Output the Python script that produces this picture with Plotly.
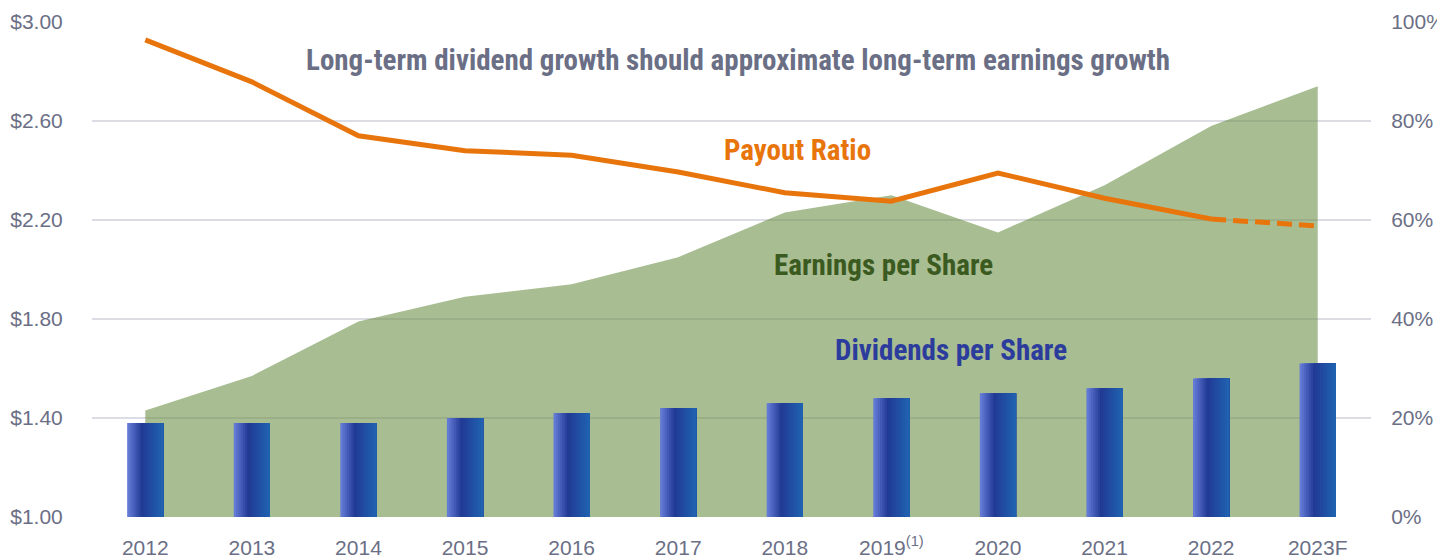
import plotly.graph_objects as go

years = ["2012", "2013", "2014", "2015", "2016", "2017", "2018", "2019", "2020", "2021", "2022", "2023F"]
year_labels = ["2012", "2013", "2014", "2015", "2016", "2017", "2018", "2019<sup>(1)</sup>",
               "2020", "2021", "2022", "2023F"]
eps = [1.43, 1.57, 1.79, 1.89, 1.94, 2.05, 2.23, 2.30, 2.15, 2.34, 2.58, 2.74]
dps = [1.38, 1.38, 1.38, 1.40, 1.42, 1.44, 1.46, 1.48, 1.50, 1.52, 1.56, 1.62]
payout = [96.4, 87.9, 77.0, 74.0, 73.1, 69.7, 65.5, 63.8, 69.5, 64.4, 60.2, 58.8]

GRAY = "#6b6f86"
ORANGE = "#e8750c"
NARROW = "Liberation Sans Narrow, Arial Narrow, Roboto Condensed, Liberation Sans, sans-serif"
TICKFONT = dict(family="Liberation Sans, Arial, sans-serif", size=21, color=GRAY)
HIDE = "rgba(0,0,0,0)"

# page body has an 8px margin, so the figure is shrunk by that amount
PLOT_L, PLOT_T, PLOT_W, PLOT_H = 92, 22, 1279, 495

fig = go.Figure()

# earnings area (bottom layer, on y)
fig.add_trace(go.Scatter(x=years, y=eps, mode="lines", line=dict(width=0),
                         fill="tozeroy", fillcolor="rgba(110,145,73,0.6)",
                         hoverinfo="skip", showlegend=False))

# dividend bars drawn as stacked strips to fake the gradient (on y2 so they sit above the area)
def mix(c1, c2, t):
    return "rgb(%d,%d,%d)" % tuple(round(a + (b - a) * t) for a, b in zip(c1, c2))

light, dark, right = (106, 128, 220), (33, 58, 148), (32, 100, 178)
bar_w = 0.34
n_strips = 16
sw = bar_w / n_strips
for i in range(n_strips):
    t = (i + 0.5) / n_strips
    if t < 0.4:
        col = mix(light, dark, t / 0.4)
    else:
        col = mix(dark, right, (t - 0.4) / 0.6)
    fig.add_trace(go.Bar(x=years, y=dps, yaxis="y2", width=bar_w - i * sw, offset=-bar_w / 2 + i * sw,
                         marker=dict(color=col, line=dict(width=0)),
                         showlegend=False, hoverinfo="skip"))

# payout ratio line: solid for actuals, dashed for forecast
solid = payout[:-1] + [None]
dashed = [None] * (len(payout) - 2) + payout[-2:]
fig.add_trace(go.Scatter(x=years, y=solid, yaxis="y3", mode="lines",
                         line=dict(color=ORANGE, width=5), showlegend=False))
fig.add_trace(go.Scatter(x=years, y=dashed, yaxis="y3", mode="lines",
                         line=dict(color=ORANGE, width=5, dash="15px,7px"), showlegend=False))

W, H = 1437, 552
fig.update_layout(
    width=W, height=H,
    margin=dict(l=PLOT_L - 8, r=W - (PLOT_L - 8) - PLOT_W, t=PLOT_T - 8,
                b=H - (PLOT_T - 8) - PLOT_H, autoexpand=False),
    plot_bgcolor="white", paper_bgcolor="white",
    barmode="overlay",
    xaxis=dict(type="category", tickvals=years, ticktext=year_labels,
               range=[-0.5, 11.5], showgrid=False, showline=False, automargin=False,
               ticks="outside", ticklen=12, tickcolor=HIDE,
               tickfont=TICKFONT),
    yaxis=dict(range=[1.0, 3.0], dtick=0.4, tick0=1.0, tickformat="$.2f",
               showgrid=True, gridcolor="#dcdce4", gridwidth=2,
               zeroline=False, showline=False, automargin=False,
               ticks="outside", ticklen=24, tickcolor=HIDE,
               tickfont=TICKFONT),
    yaxis2=dict(range=[1.0, 3.0], overlaying="y", visible=False),
    yaxis3=dict(range=[0, 100], dtick=20, ticksuffix="%", overlaying="y", side="right",
                showgrid=False, zeroline=False, showline=False, automargin=False,
                ticks="outside", ticklen=15, tickcolor=HIDE,
                tickfont=TICKFONT),
)

def label(text, cx, cy, color, size):
    fig.add_annotation(x=(cx - PLOT_L) / PLOT_W, y=(PLOT_T + PLOT_H - cy) / PLOT_H,
                       xref="paper", yref="paper",
                       text="<b>%s</b>" % text, showarrow=False,
                       xanchor="center", yanchor="middle",
                       font=dict(family=NARROW, size=size, color=color))

label("Long-term dividend growth should approximate long-term earnings growth", 738, 60, GRAY, 29)
label("Payout Ratio", 797, 150, ORANGE, 29)
label("Earnings per Share", 883, 265, "#3b5a1f", 29)
label("Dividends per Share", 951, 350, "#2b3c9c", 29)

fig.write_html("out.html")
